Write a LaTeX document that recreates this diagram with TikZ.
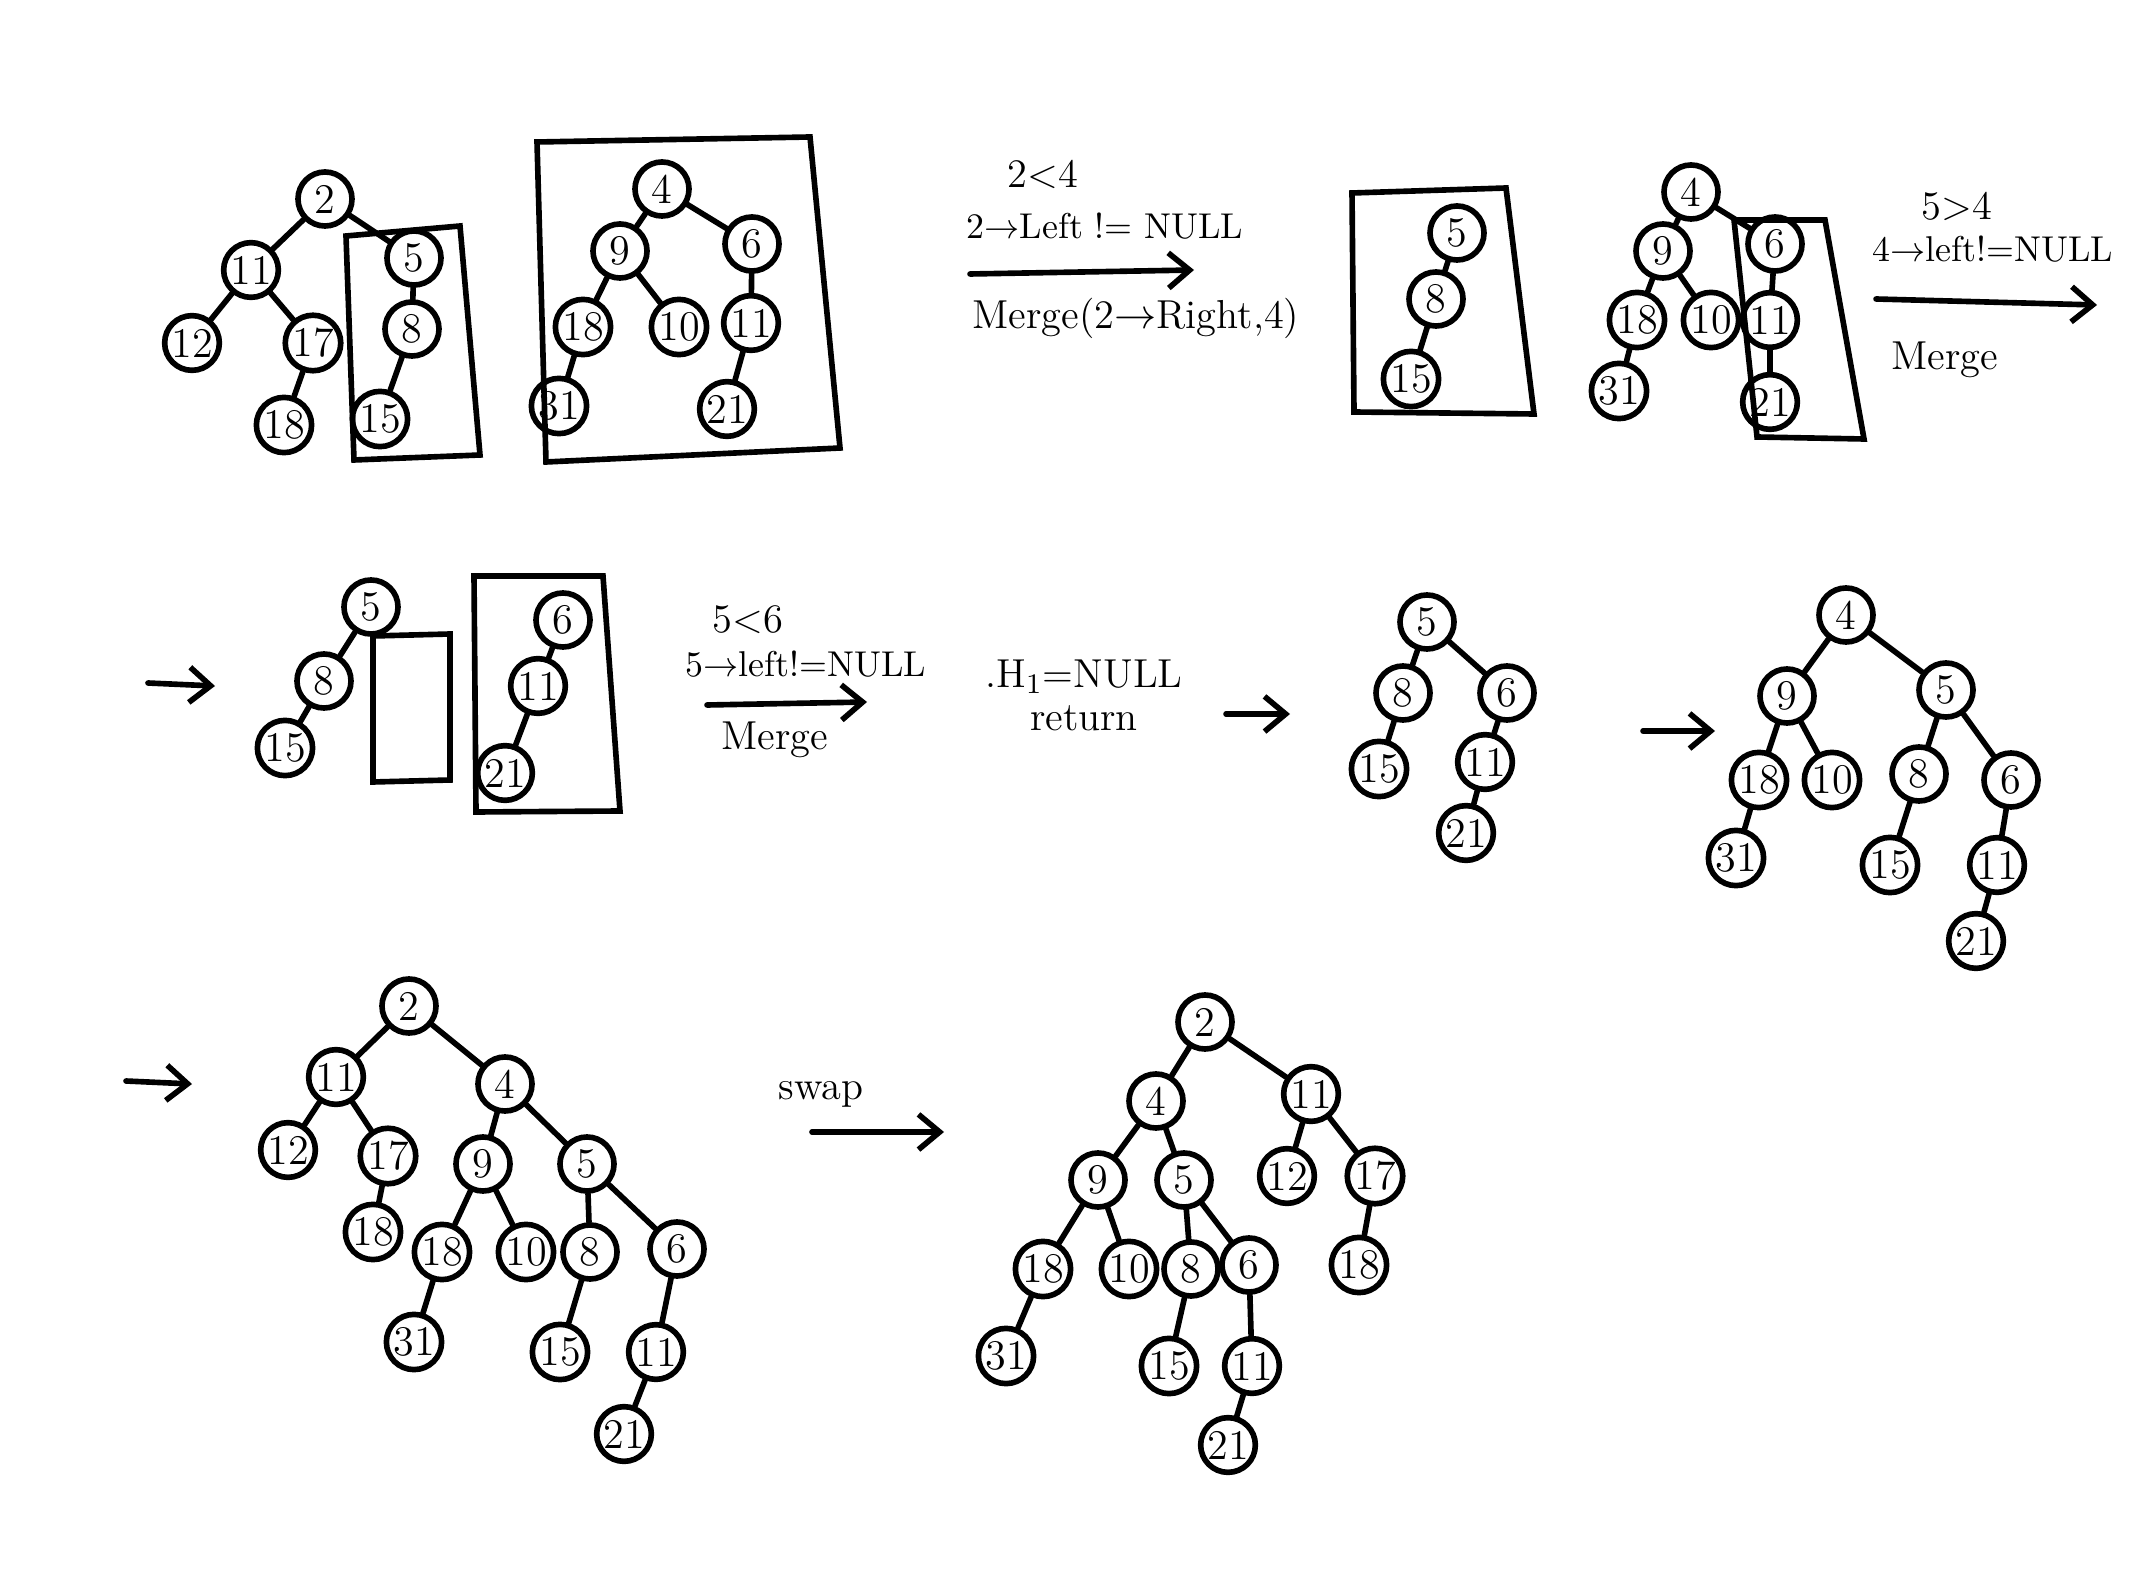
\documentclass[tikz,border=0pt]{standalone}
\usetikzlibrary{arrows.meta}
\begin{document}
\begin{tikzpicture}[x=0.01cm,y=-0.01cm,line width=1.6pt,line cap=round,
  hn/.style={circle,draw,minimum size=0.54cm,inner sep=0.5pt,font=\large},
  lbl/.style={font=\fontsize{11.5}{13}\selectfont,inner sep=1pt},
  lbls/.style={lbl,font=\fontsize{10.2}{12}\selectfont},
  >={Straight Barb[length=6pt,width=10pt]}]
\useasboundingbox (0,0) rectangle (2152,1592);
% row 1: the two heaps
\node[hn] (A2) at (325,199) {2};
\node[hn] (A11) at (251,270) {11};
\node[hn] (A12) at (192,343) {12};
\node[hn] (A17) at (313,343) {17};
\node[hn] (A18) at (284,425) {18};
\node[hn] (A5) at (414,258) {5};
\node[hn] (A8) at (412,329) {8};
\node[hn] (A15) at (380,419) {15};
\path
  (A2) edge (A11)
  (A11) edge (A12)
  (A11) edge (A17)
  (A17) edge (A18)
  (A2) edge (A5)
  (A5) edge (A8)
  (A8) edge (A15)
;
\draw (346,236) -- (460,226) -- (480,455) -- (354,460) -- cycle;
\node[hn] (B4) at (662,189) {4};
\node[hn] (B9) at (620,251) {9};
\node[hn] (B6) at (752,244) {6};
\node[hn] (B18) at (583,327) {18};
\node[hn] (B10) at (679,327) {10};
\node[hn] (B11) at (751,323) {11};
\node[hn] (B31) at (559,406) {31};
\node[hn] (B21) at (727,409) {21};
\path
  (B4) edge (B9)
  (B4) edge (B6)
  (B9) edge (B18)
  (B9) edge (B10)
  (B6) edge (B11)
  (B18) edge (B31)
  (B11) edge (B21)
;
\draw (537,142) -- (810,137) -- (840,448) -- (546,462) -- cycle;
% first step
\node[lbl] (t1) at (1043,174) {2<4};
\node[lbls] (t2) at (1105,226) {2$\rightarrow$Left != NULL};
\coordinate (a1s) at (970,274);
\coordinate (a1e) at (1194,270);
\draw[->] (a1s) -- (a1e);
\node[lbl] (t3) at (1136,318) {Merge(2$\rightarrow$Right,4)};
\node[hn] (C5) at (1457,233) {5};
\node[hn] (C8) at (1436,299) {8};
\node[hn] (C15) at (1411,379) {15};
\path
  (C5) edge (C8)
  (C8) edge (C15)
;
\draw (1352,193) -- (1506,188) -- (1534,414) -- (1354,412) -- cycle;
\node[hn] (D4) at (1691,192) {4};
\node[hn] (D9) at (1663,251) {9};
\node[hn] (D18) at (1637,320) {18};
\node[hn] (D10) at (1711,320) {10};
\node[hn] (D31) at (1619,391) {31};
\node[hn] (D6) at (1775,244) {6};
\node[hn] (D11) at (1770,320) {11};
\node[hn] (D21) at (1770,402) {21};
\path
  (D4) edge (D9)
  (D9) edge (D18)
  (D9) edge (D10)
  (D18) edge (D31)
  (D4) edge (D6)
  (D6) edge (D11)
  (D11) edge (D21)
;
\draw (1734,220) -- (1825,220) -- (1864,439) -- (1757,437) -- cycle;
\node[lbl] (t4) at (1957,206) {5>4};
\node[lbls] (t5) at (1993,249) {4$\rightarrow$left!=NULL};
\coordinate (a2s) at (1876,299);
\coordinate (a2e) at (2097,305);
\draw[->] (a2s) -- (a2e);
\node[lbl] (t6) at (1945,360) {Merge};
% row 2
\coordinate (a3s) at (148,683);
\coordinate (a3e) at (215,686);
\draw[->] (a3s) -- (a3e);
\node[hn] (E5) at (371,607) {5};
\node[hn] (E8) at (324,681) {8};
\node[hn] (E15) at (285,748) {15};
\path
  (E5) edge (E8)
  (E8) edge (E15)
;
\draw (373,636) -- (450,634) -- (450,780) -- (373,782) -- cycle;
\node[hn] (E6) at (563,620) {6};
\node[hn] (E11) at (538,686) {11};
\node[hn] (E21) at (505,773) {21};
\path
  (E6) edge (E11)
  (E11) edge (E21)
;
\draw (474,576) -- (603,576) -- (620,811) -- (476,812) -- cycle;
\node[lbl] (t7) at (748,620) {5<6};
\node[lbls] (t8) at (806,664) {5$\rightarrow$left!=NULL};
\coordinate (a4s) at (707,705);
\coordinate (a4e) at (867,702);
\draw[->] (a4s) -- (a4e);
\node[lbl] (t9) at (775,740) {Merge};
\node[lbl] (t10) at (1084,677) {.H\textsubscript{1}=NULL};
\node[lbl] (t11) at (1084,718) {return};
\coordinate (a5s) at (1226,714);
\coordinate (a5e) at (1290,714);
\draw[->] (a5s) -- (a5e);
\node[hn] (F5) at (1427,622) {5};
\node[hn] (F8) at (1403,693) {8};
\node[hn] (F6) at (1507,693) {6};
\node[hn] (F15) at (1379,769) {15};
\node[hn] (F11) at (1485,762) {11};
\node[hn] (F21) at (1466,833) {21};
\path
  (F5) edge (F8)
  (F5) edge (F6)
  (F8) edge (F15)
  (F6) edge (F11)
  (F11) edge (F21)
;
\coordinate (a6s) at (1643,731);
\coordinate (a6e) at (1715,731);
\draw[->] (a6s) -- (a6e);
\node[hn] (G4) at (1846,615) {4};
\node[hn] (G9) at (1787,696) {9};
\node[hn] (G5) at (1946,690) {5};
\node[hn] (G18) at (1759,780) {18};
\node[hn] (G10) at (1832,780) {10};
\node[hn] (G8) at (1919,774) {8};
\node[hn] (G6) at (2011,780) {6};
\node[hn] (G31) at (1736,858) {31};
\node[hn] (G15) at (1890,865) {15};
\node[hn] (G11) at (1997,865) {11};
\node[hn] (G21) at (1976,941) {21};
\path
  (G4) edge (G9)
  (G4) edge (G5)
  (G9) edge (G18)
  (G9) edge (G10)
  (G5) edge (G8)
  (G5) edge (G6)
  (G18) edge (G31)
  (G8) edge (G15)
  (G6) edge (G11)
  (G11) edge (G21)
;
% row 3
\coordinate (a7s) at (126,1081);
\coordinate (a7e) at (192,1084);
\draw[->] (a7s) -- (a7e);
\node[hn] (H2) at (409,1006) {2};
\node[hn] (H11) at (336,1077) {11};
\node[hn] (H4) at (505,1084) {4};
\node[hn] (H12) at (288,1150) {12};
\node[hn] (H17) at (388,1156) {17};
\node[hn] (H9) at (483,1164) {9};
\node[hn] (H5) at (587,1164) {5};
\node[hn] (H18a) at (373,1232) {18};
\node[hn] (H18) at (442,1252) {18};
\node[hn] (H10) at (526,1252) {10};
\node[hn] (H8) at (590,1252) {8};
\node[hn] (H6) at (677,1249) {6};
\node[hn] (H31) at (414,1342) {31};
\node[hn] (H15) at (560,1352) {15};
\node[hn] (H11b) at (656,1352) {11};
\node[hn] (H21) at (624,1434) {21};
\path
  (H2) edge (H11)
  (H2) edge (H4)
  (H11) edge (H12)
  (H11) edge (H17)
  (H17) edge (H18a)
  (H4) edge (H9)
  (H4) edge (H5)
  (H9) edge (H18)
  (H9) edge (H10)
  (H5) edge (H8)
  (H5) edge (H6)
  (H18) edge (H31)
  (H8) edge (H15)
  (H6) edge (H11b)
  (H11b) edge (H21)
;
\node[lbl] (t12) at (821,1094) {swap};
\coordinate (a8s) at (812,1132);
\coordinate (a8e) at (944,1132);
\draw[->] (a8s) -- (a8e);
\node[hn] (I2) at (1205,1022) {2};
\node[hn] (I4) at (1156,1101) {4};
\node[hn] (I11) at (1311,1094) {11};
\node[hn] (I9) at (1098,1180) {9};
\node[hn] (I5) at (1184,1180) {5};
\node[hn] (I12) at (1287,1176) {12};
\node[hn] (I17) at (1375,1176) {17};
\node[hn] (I18) at (1043,1269) {18};
\node[hn] (I10) at (1129,1269) {10};
\node[hn] (I8) at (1191,1269) {8};
\node[hn] (I6) at (1249,1265) {6};
\node[hn] (I18b) at (1359,1265) {18};
\node[hn] (I31) at (1006,1356) {31};
\node[hn] (I15) at (1169,1366) {15};
\node[hn] (I11b) at (1252,1366) {11};
\node[hn] (I21) at (1228,1445) {21};
\path
  (I2) edge (I4)
  (I2) edge (I11)
  (I4) edge (I9)
  (I4) edge (I5)
  (I11) edge (I12)
  (I11) edge (I17)
  (I17) edge (I18b)
  (I9) edge (I18)
  (I9) edge (I10)
  (I5) edge (I8)
  (I5) edge (I6)
  (I18) edge (I31)
  (I8) edge (I15)
  (I6) edge (I11b)
  (I11b) edge (I21)
;
\end{tikzpicture}
\end{document}
